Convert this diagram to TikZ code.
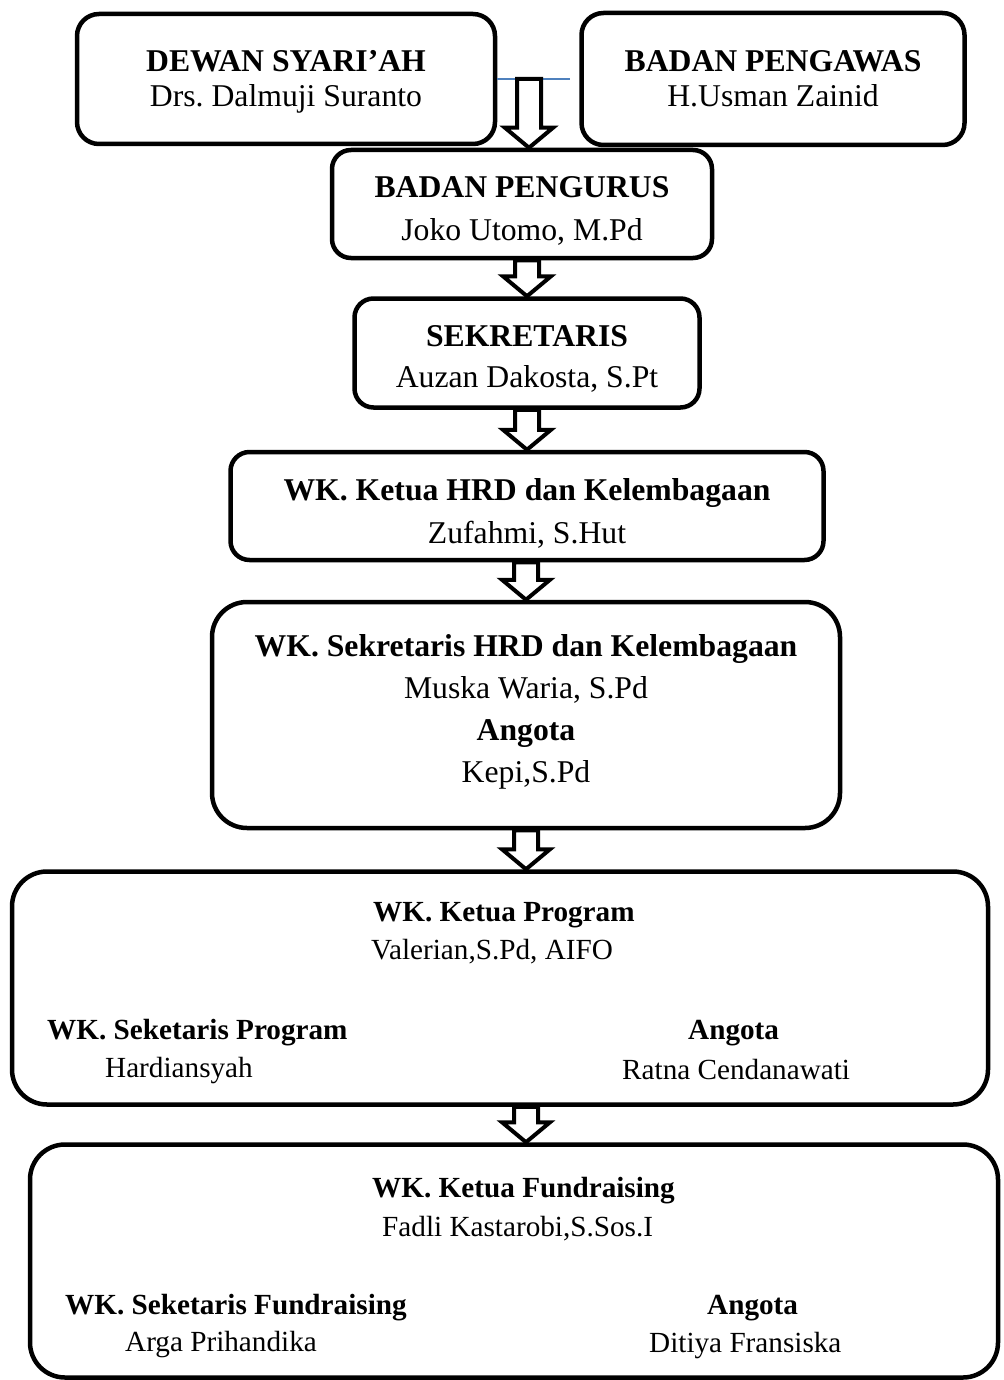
\documentclass[tikz,border=0pt]{standalone}
\usepackage{fontspec}
\setmainfont{Liberation Serif}
\usetikzlibrary{calc}
\definecolor{linkblue}{RGB}{79,129,189}
\newcommand{\sz}[1]{\fontsize{31.7}{#1}\selectfont}
\newcommand{\hi}[1]{\rule{0pt}{#1}}
\newcommand{\lo}[1]{\rule[-#1]{0pt}{#1}}
% hollow block arrow, top at #1, tip at #2
\newcommand{\blockarrow}[2]{%
  \draw[hollow] let \p1=(#1), \p2=(#2) in
    (\x2-12pt,\y1) -- (\x2+12pt,\y1) -- (\x2+12pt,\y2+20pt)
    -- (\x2+24pt,\y2+20pt) -- (\x2,\y2) -- (\x2-24pt,\y2+20pt)
    -- (\x2-12pt,\y2+20pt) -- cycle;}
\tikzset{
  box/.style={draw, line width=4.5pt, rounded corners=#1, align=center, inner sep=0pt},
  box/.default=22pt,
  hollow/.style={draw, fill=white, line width=4pt, line join=miter},
  blueline/.style={draw=linkblue, line width=1.6pt},
  txt/.style={anchor=base west, inner sep=0pt, font=\fontsize{29.2}{38}\selectfont},
}
\begin{document}
\frenchspacing
\begin{tikzpicture}[x=1pt,y=-1pt]
\useasboundingbox (0,0) rectangle (1003,1380);
%
\node[box, minimum width=418pt, minimum height=130pt, font=\sz{35}] (dewan) at (286,79) {\hi{31.5pt}\textbf{DEWAN SYARI’AH}\\Drs. Dalmuji Suranto\strut};
\node[box, minimum width=383pt, minimum height=132pt, font=\sz{35}] (pengawas) at (773,79) {\hi{31.5pt}\textbf{BADAN PENGAWAS}\\H.Usman Zainid\strut};
\coordinate (link) at (529,79);
\coordinate (linkend) at (570,79);
\draw[blueline] (dewan.east) -- (linkend);
%
\node[box=19pt, minimum width=380pt, minimum height=108pt, font=\sz{43}] (pengurus) at (522,204) {\hi{43pt}\textbf{BADAN PENGURUS}\\Joko Utomo, M.Pd\strut};
\blockarrow{link}{link |- pengurus.north}
%
\node[box=19pt, minimum width=345pt, minimum height=109pt, font=\sz{41}] (sekretaris) at (527,353) {\hi{41pt}\textbf{SEKRETARIS}\\Auzan Dakosta, S.Pt\strut};
\blockarrow{pengurus.south}{sekretaris.north}
%
\node[box=19pt, minimum width=593pt, minimum height=108pt, font=\sz{43}] (ketuaHRD) at (527,506) {\hi{44pt}\textbf{WK. Ketua HRD dan Kelembagaan}\\Zufahmi, S.Hut\strut};
\blockarrow{sekretaris.south}{ketuaHRD.north}
%
\node[box=35pt, minimum width=628pt, minimum height=226pt, font=\sz{42}] (sekHRD) at (526,715) {\strut\textbf{WK. Sekretaris HRD dan Kelembagaan}\\Muska Waria, S.Pd\\\textbf{Angota}\\Kepi,S.Pd\lo{20.6pt}};
\blockarrow{ketuaHRD.south}{sekHRD.north}
%
\node[box=35pt, minimum width=976pt, minimum height=233pt] (program) at (500,988) {};
\blockarrow{sekHRD.south}{sekHRD.south |- program.north}
\node[txt] (progHead) at (373,921) {\textbf{WK. Ketua Program}};
\node[txt] (progName) at (371,959) {Valerian,S.Pd, AIFO};
\node[txt] (progSek) at (47,1039) {\textbf{WK. Seketaris Program}};
\node[txt] (progSekName) at (105,1077) {Hardiansyah};
\node[txt] (progAng) at (688,1039) {\textbf{Angota}};
\node[txt] (progAngName) at (622,1079) {Ratna Cendanawati};
%
\node[box=35pt, minimum width=968pt, minimum height=233pt] (fund) at (514,1261) {};
\blockarrow{program.south}{sekHRD.south |- fund.north}
\node[txt] (fundHead) at (372,1197) {\textbf{WK. Ketua Fundraising}};
\node[txt] (fundName) at (382,1236) {Fadli Kastarobi,S.Sos.I};
\node[txt] (fundSek) at (65,1314) {\textbf{WK. Seketaris Fundraising}};
\node[txt] (fundSekName) at (125,1351) {Arga Prihandika};
\node[txt] (fundAng) at (707,1314) {\textbf{Angota}};
\node[txt] (fundAngName) at (649,1352) {Ditiya Fransiska};
\end{tikzpicture}
\end{document}
